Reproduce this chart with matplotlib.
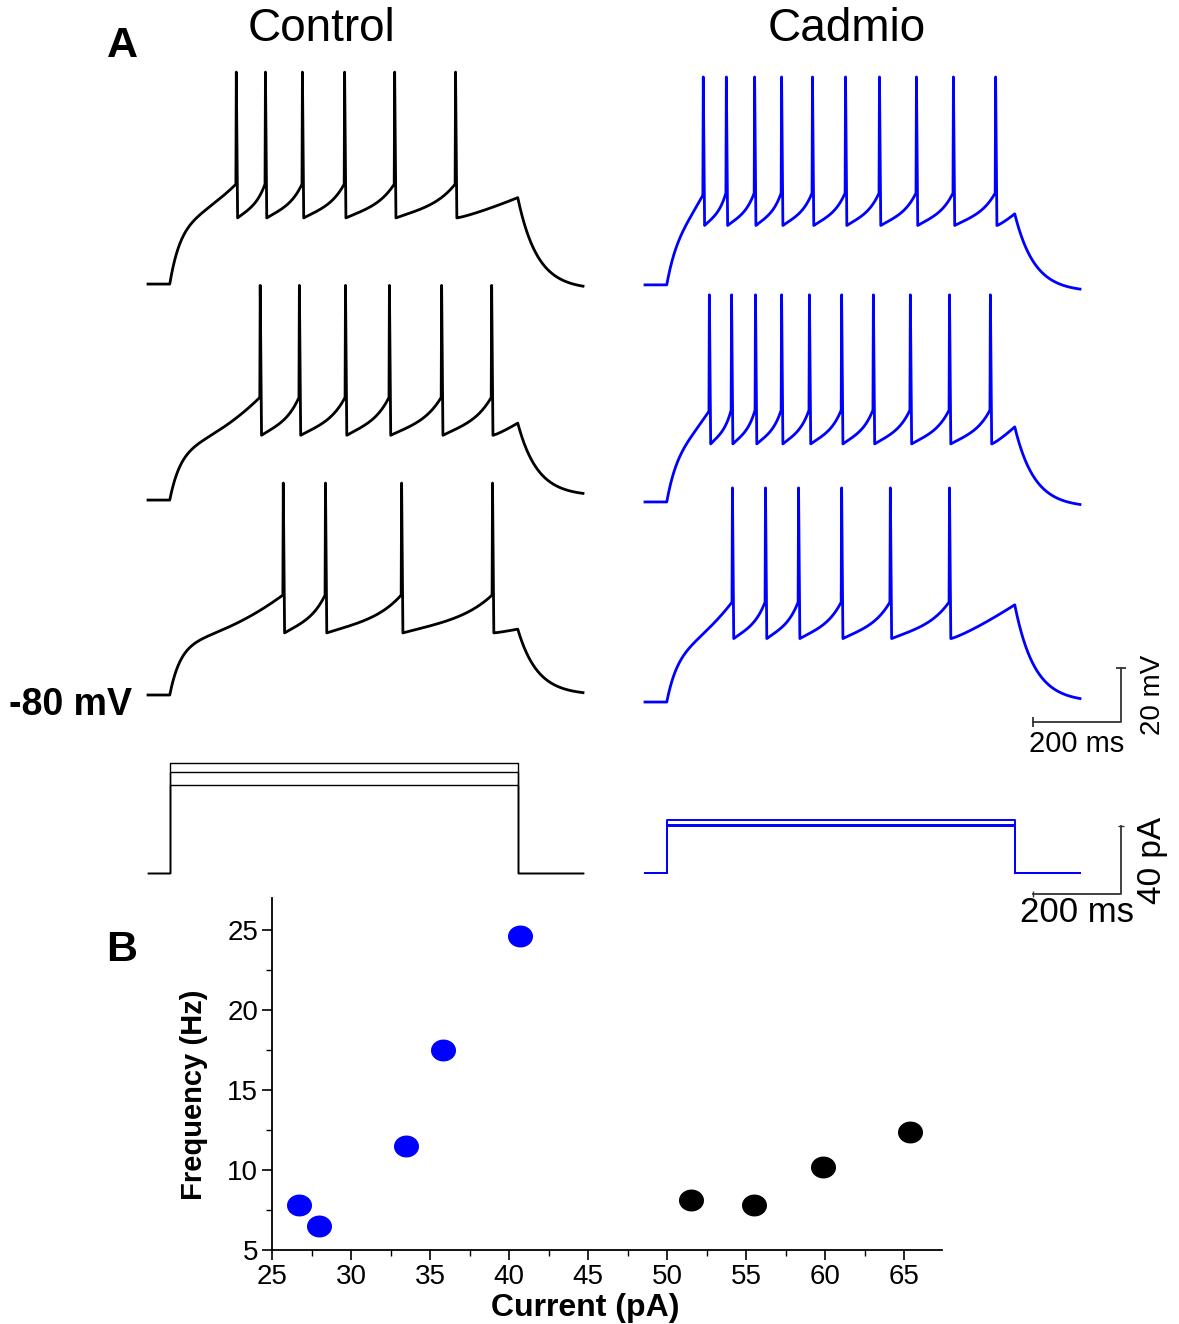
import numpy as np
import matplotlib.pyplot as plt
from matplotlib.path import Path

plt.rcParams['font.family'] = ['Liberation Sans', 'DejaVu Sans']

# ---- data ----
# step protocol (ms)
step_on, step_off, t_end = 50, 850, 1000
rest_mv = -80.0

# spike times (ms from trace start), top -> bottom trace
ctrl_spikes = [[202, 269, 354, 451, 566, 706],
               [257, 347, 453, 554, 674, 789],
               [310, 407, 582, 791]]
cad_spikes = [[133, 186, 251, 313, 384, 460, 538, 623, 708, 805],
              [147, 198, 253, 313, 377, 451, 524, 609, 699, 793],
              [200, 276, 352, 451, 563, 699]]

# membrane levels (mV): spike peak, threshold, AHP trough, early plateau, end of step, final
ctrl_peak = [-1.5, -0.5, -1.5]
ctrl_thr = [-43, -42, -43]
ctrl_ahp = [-55.5, -56, -57]
ctrl_knee = [-56, -60, -60]
ctrl_stepend = [-48, -51.5, -55.6]
ctrl_final = [-82, -78.5, -80]

cad_peak = [-3, -3.3, -0.7]
cad_thr = [-46, -46, -43]
cad_ahp = [-58, -58.5, -56.5]
cad_knee = [-58, -58, -60]
cad_stepend = [-53.7, -52.2, -44]
cad_final = [-82.6, -82, -80]

# injected current steps (pA)
ctrl_steps = [64.7, 59.4, 51.8]
cad_steps = [31.2, 28.2, 27.6]

# panel B: frequency vs current
cad_current = [26.7, 28.0, 33.5, 35.8, 40.7]
cad_freq = [7.8, 6.5, 11.5, 17.5, 24.6]
ctrl_current = [51.5, 55.5, 59.9, 65.4]
ctrl_freq = [8.1, 7.8, 10.2, 12.35]


def make_trace(spikes, peak, thr, ahp, knee, v_step_end, v_final):
    t = np.arange(0, t_end + 0.25, 0.25)
    v = np.full_like(t, rest_mv)
    t1 = spikes[0]
    m = (t >= step_on) & (t < t1)
    s = (t[m] - step_on) / (t1 - step_on)
    v[m] = rest_mv + (knee - rest_mv) * (1 - np.exp(-(t[m] - step_on) / 25)) + (thr - knee) * s ** 1.8
    for i, ts in enumerate(spikes):
        last = i + 1 == len(spikes)
        nxt = step_off if last else spikes[i + 1]
        m = (t >= ts) & (t < ts + 1)
        v[m] = thr + (peak - thr) * (t[m] - ts)
        m = (t >= ts + 1) & (t < ts + 4)
        v[m] = peak + (ahp - peak) * (t[m] - ts - 1) / 3
        m = (t >= ts + 4) & (t < nxt)
        s = (t[m] - ts - 4) / (nxt - ts - 4)
        if last:
            v[m] = ahp + (v_step_end - ahp) * s ** 1.2
        else:
            v[m] = ahp + (thr - ahp) * (0.6 * s + 0.4 * s ** 4)
    m = t >= step_off
    v[m] = v_final + (v_step_end - v_final) * np.exp(-(t[m] - step_off) / 45)
    return t, v


W, H = 1179, 1324
fig = plt.figure(figsize=(W / 100, H / 100), dpi=100)

# layout: 0.435 px per ms, 2.7 px per mV, 1.7 px per pA
px_ms, px_mv, px_pa = 0.435, 2.7, 1.7
x0_px, rest_px, i0_px = 148, 695, 873
xlim = (-x0_px / px_ms, (W - x0_px) / px_ms)
cad_shift = 497 / px_ms

ax_v = fig.add_axes([0, 0, 1, 1])
ax_v.set_xlim(*xlim)
ax_v.set_ylim(rest_mv - (H - rest_px) / px_mv, rest_mv + rest_px / px_mv)
ax_v.axis('off')

ax_i = fig.add_axes([0, 0, 1, 1])
ax_i.set_xlim(*xlim)
ax_i.set_ylim(-(H - i0_px) / px_pa, i0_px / px_pa)
ax_i.axis('off')
ax_i.patch.set_alpha(0)

ctrl_offsets = [152.2, 72.2, 0.0]
cad_offsets = [151.9, 71.5, -2.6]

for k in range(3):
    t, v = make_trace(ctrl_spikes[k], ctrl_peak[k], ctrl_thr[k], ctrl_ahp[k],
                      ctrl_knee[k], ctrl_stepend[k], ctrl_final[k])
    ax_v.plot(t, v + ctrl_offsets[k], color='black', lw=2.0, solid_joinstyle='round')
    t, v = make_trace(cad_spikes[k], cad_peak[k], cad_thr[k], cad_ahp[k],
                      cad_knee[k], cad_stepend[k], cad_final[k])
    ax_v.plot(t + cad_shift, v + cad_offsets[k], color='#0000ff', lw=2.0, solid_joinstyle='round')

step_t = [0, step_on, step_on, step_off, step_off, t_end]
for a in ctrl_steps:
    ax_i.plot(step_t, [0, 0, a, a, 0, 0], color='black', lw=1.0)
for a in cad_steps:
    ax_i.plot(np.array(step_t) + cad_shift, [0, 0, a, a, 0, 0], color='#0000ff', lw=1.4)

# scale bars
sb_x0, sb_x1 = (1033 - x0_px) / px_ms, (1121 - x0_px) / px_ms
sb_col = '#333333'
ax_v.plot([sb_x0, sb_x1, sb_x1], [-90, -90, -70], color=sb_col, lw=1.3)
ax_v.plot([sb_x0], [-90], marker='|', ms=7, color=sb_col, mew=1.3)
ax_v.plot([sb_x1], [-70], marker='_', ms=7, color=sb_col, mew=1.3)
ib_y0 = (i0_px - 894) / px_pa
ax_i.plot([sb_x0, sb_x1, sb_x1], [ib_y0, ib_y0, ib_y0 + 40], color=sb_col, lw=1.3)
ax_i.plot([sb_x0], [ib_y0], marker='|', ms=5, color=sb_col, mew=1.0)
ax_i.plot([sb_x1], [ib_y0 + 40], marker='_', ms=5, color=sb_col, mew=1.0)


def ftext(x, y, s, **kw):
    fig.text(x / W, 1 - y / H, s, ha=kw.pop('ha', 'center'), va=kw.pop('va', 'center'), **kw)


ftext(321, 29, 'Control', fontsize=33)
ftext(847, 29, 'Cadmio', fontsize=33)
ftext(122, 46, 'A', fontsize=31, fontweight='bold')
ftext(122, 950, 'B', fontsize=31, fontweight='bold')
ftext(132, 705, '-80 mV', fontsize=27, fontweight='bold', ha='right')
ftext(1077, 744, '200 ms', fontsize=21)
ftext(1153, 695, '20 mV', fontsize=20, rotation=90)
ftext(1077, 913, '200 ms', fontsize=25)
ftext(1153, 860, '40 pA', fontsize=24, rotation=90)

# ---- panel B ----
ax_b = fig.add_axes([272 / W, 1 - 1250 / H, 670 / W, 352 / H])
theta = np.linspace(0, 2 * np.pi, 60)
ellipse = Path(np.column_stack([1.15 * np.cos(theta), np.sin(theta)]), closed=True)
ax_b.plot(cad_current, cad_freq, ls='none', marker=ellipse, ms=17, color='#0000ff')
ax_b.plot(ctrl_current, ctrl_freq, ls='none', marker=ellipse, ms=17, color='black')
ax_b.set_xlim(25, 67.4)
ax_b.set_ylim(5, 27)
ax_b.set_xticks(np.arange(25, 66, 5))
ax_b.set_xticks(np.arange(27.5, 67, 2.5), minor=True)
ax_b.set_yticks([5, 10, 15, 20, 25])
ax_b.set_yticks(np.arange(7.5, 27, 2.5), minor=True)
ax_b.spines[['top', 'right']].set_visible(False)
for sp in ax_b.spines.values():
    sp.set_linewidth(1.3)
ax_b.tick_params(which='major', length=7, width=1.2, labelsize=20, direction='out', pad=3)
ax_b.tick_params(which='minor', length=4, width=1.0, direction='out')
ax_b.set_xlabel('Current (pA)', fontsize=23, fontweight='bold')
ax_b.set_ylabel('Frequency (Hz)', fontsize=21, fontweight='bold')
ax_b.xaxis.set_label_coords((585 - 272) / 670, -(1293 - 1250) / 352)
ax_b.yaxis.set_label_coords(-(272 - 208) / 670, (1250 - 1095) / 352)

fig.savefig('out.png', dpi=100)
